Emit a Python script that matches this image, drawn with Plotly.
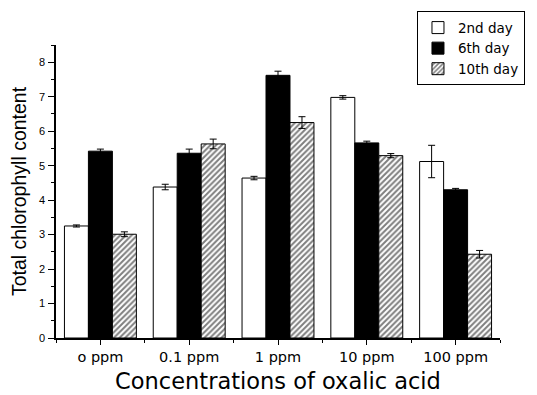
import plotly.graph_objects as go

categories = ["o ppm", "0.1 ppm", "1 ppm", "10 ppm", "100 ppm"]
series_names = ["2nd day", "6th day", "10th day"]
day2 = [3.25, 4.38, 4.64, 6.98, 5.12]
day2_err = [0.03, 0.08, 0.05, 0.05, 0.47]
day6 = [5.42, 5.36, 7.62, 5.66, 4.30]
day6_err = [0.06, 0.12, 0.12, 0.05, 0.04]
day10 = [3.01, 5.63, 6.25, 5.29, 2.43]
day10_err = [0.07, 0.14, 0.17, 0.06, 0.11]

xpos = list(range(len(categories)))
font = "Liberation Sans, Arial, sans-serif"
wide = "DejaVu Sans, Verdana, sans-serif"

fig = go.Figure()
styles = [
    dict(color="white", pattern=None),
    dict(color="black", pattern=None),
    dict(color="white", pattern=dict(shape="/", fgcolor="black", bgcolor="white", size=4, solidity=0.5)),
]
for name, vals, errs, st in zip(series_names, [day2, day6, day10], [day2_err, day6_err, day10_err], styles):
    marker = dict(color=st["color"], line=dict(color="black", width=1))
    if st["pattern"]:
        marker["pattern"] = st["pattern"]
    fig.add_trace(go.Bar(
        x=xpos, y=vals, name=name, marker=marker,
        error_y=dict(type="data", array=errs, visible=True, color="black", thickness=1, width=3.5),
    ))

fig.update_layout(
    width=537, height=395,
    margin=dict(l=56, r=37, t=45, b=57, autoexpand=False),
    paper_bgcolor="white", plot_bgcolor="white",
    barmode="group", bargap=0.19, bargroupgap=0,
    font=dict(family=font, color="black"),
    showlegend=True,
    legend=dict(
        x=0.813, y=1.115, xanchor="left", yanchor="top",
        bordercolor="black", borderwidth=1, bgcolor="white",
        font=dict(size=13.5, family=wide), tracegroupgap=0,
        itemwidth=30,
    ),
)
fig.update_xaxes(
    range=[-0.5, 4.5], tickmode="array", tickvals=xpos, ticktext=categories,
    showline=True, linecolor="black", linewidth=1.5, mirror=False,
    ticks="outside", ticklen=5, tickwidth=1, tickcolor="black",
    tickfont=dict(size=14.5, family=wide),
    showgrid=False, zeroline=False, automargin=False,
    minor=dict(tickmode="array", tickvals=[-0.5, 0.5, 1.5, 2.5, 3.5, 4.5], ticks="outside", ticklen=3, tickcolor="black", showgrid=False),
    title=dict(text="Concentrations of oxalic acid", font=dict(size=22.5, family=wide), standoff=9),
)
fig.update_yaxes(
    range=[0, 8.5], dtick=1, tick0=0,
    showline=True, linecolor="black", linewidth=1.5,
    ticks="outside", ticklen=6, tickwidth=1, tickcolor="black",
    tickfont=dict(size=11, family=font), ticklabelstandoff=1,
    showgrid=False, zeroline=False, automargin=False,
    minor=dict(dtick=0.5, ticks="outside", ticklen=3, tickcolor="black", showgrid=False),
    title=dict(text="Total chlorophyll content", font=dict(size=19.5, family=font), standoff=7),
)
fig.write_html("out.html", config={"displayModeBar": False},
               post_script="document.body.style.margin='0';document.body.style.padding='0';")
